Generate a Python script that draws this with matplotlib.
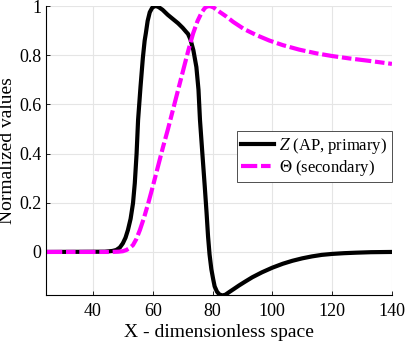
import numpy as np
import matplotlib.pyplot as plt

plt.rcParams['font.family'] = ['Liberation Serif', 'DejaVu Serif']
plt.rcParams['mathtext.fontset'] = 'stix'

# Z (AP, primary)
z_x = [24.3, 44.0, 46.5, 47.8, 49.0, 50.0, 50.9, 51.7, 52.6, 53.4, 54.0, 54.6, 55.1,
       55.9, 56.7, 57.3, 57.7, 58.3, 59.0, 59.8, 60.6, 61.2, 62.0, 63.3, 65.0, 66.7,
       68.5, 70.0, 71.2, 71.8, 72.6, 73.6, 74.6, 75.3, 75.8, 76.6, 77.4, 78.0, 78.5,
       79.0, 79.6, 80.2, 80.7, 81.5, 82.3, 83.3, 84.3, 85.6, 87.2, 88.9, 91.0, 93.3,
       96.5, 100.0, 103.5, 106.7, 110.0, 113.3, 116.5, 120.0, 124.0, 128.0, 133.0, 140.0]
z_y = [0.0, 0.001, 0.004, 0.008, 0.018, 0.035, 0.058, 0.089, 0.135, 0.198, 0.28, 0.40, 0.537,
       0.67, 0.79, 0.86, 0.89, 0.94, 0.975, 0.993, 1.0, 1.0, 0.996, 0.985, 0.965, 0.948,
       0.93, 0.912, 0.895, 0.887, 0.865, 0.82, 0.752, 0.66, 0.537, 0.40, 0.266, 0.16, 0.063,
       -0.01, -0.07, -0.11, -0.14, -0.162, -0.173, -0.177, -0.174, -0.163, -0.15, -0.136, -0.12, -0.103,
       -0.083, -0.064, -0.048, -0.036, -0.026, -0.018, -0.012, -0.008, -0.005, -0.003, -0.001, 0.0]

# Theta (secondary)
t_x = [24.3, 46.0, 48.5, 50.0, 51.2, 52.3, 53.4, 54.5, 55.7, 57.1, 58.5, 60.1, 61.8,
       63.4, 65.1, 66.8, 68.5, 70.2, 71.8, 73.5, 75.0, 76.4, 77.4, 78.2, 79.2, 80.3,
       82.2, 84.7, 86.9, 90.5, 94.7, 99.0, 103.6, 109.0, 114.7, 120.0, 125.9, 132.0, 140.0]
t_y = [0.0, 0.0, 0.001, 0.003, 0.008, 0.016, 0.028, 0.052, 0.089, 0.14, 0.198, 0.27, 0.35,
       0.425, 0.50, 0.58, 0.66, 0.74, 0.815, 0.889, 0.94, 0.975, 0.992, 0.999, 1.0, 0.995,
       0.978, 0.957, 0.936, 0.907, 0.882, 0.86, 0.841, 0.823, 0.808, 0.797, 0.787, 0.778, 0.765]

fig = plt.figure(figsize=(4.07, 3.41), dpi=100)
ax = fig.add_axes([0.113, 0.135, 0.85, 0.847])

ax.plot(z_x, z_y, color='black', lw=3, solid_joinstyle='round', label=r'$Z$ (AP, primary)')
ax.plot(t_x, t_y, color='#ff00ff', lw=3, dashes=(3.9, 0.9, 2.3, 0.9), dash_joinstyle='round',
        label=r'$\Theta$ (secondary)')

ax.set_xlim(24.3, 140)
ax.set_ylim(-0.175, 1)
ax.set_xticks([40, 60, 80, 100, 120, 140])
ax.set_yticks([0, 0.2, 0.4, 0.6, 0.8, 1])
ax.set_yticklabels(['0', '0.2', '0.4', '0.6', '0.8', '1'])
ax.grid(True, color='#e5e5e5', lw=0.8)
ax.set_axisbelow(True)
ax.spines['top'].set_visible(False)
ax.spines['right'].set_visible(False)
ax.tick_params(direction='in', length=3, labelsize=13, width=0.6)
ax.tick_params(axis='x', pad=6)
ax.set_xlabel('X - dimensionless space', fontsize=14, labelpad=3)
ax.set_ylabel('Normalized values', fontsize=14, labelpad=2)

leg = ax.legend(loc='upper left', bbox_to_anchor=(0.552, 0.566), fontsize=12,
                fancybox=False, framealpha=1, edgecolor='#333333', handlelength=2.0,
                borderpad=0.25, labelspacing=0.15, handletextpad=0.3, borderaxespad=0)
leg.get_frame().set_linewidth(0.6)

fig.savefig('out.png', dpi=100)
